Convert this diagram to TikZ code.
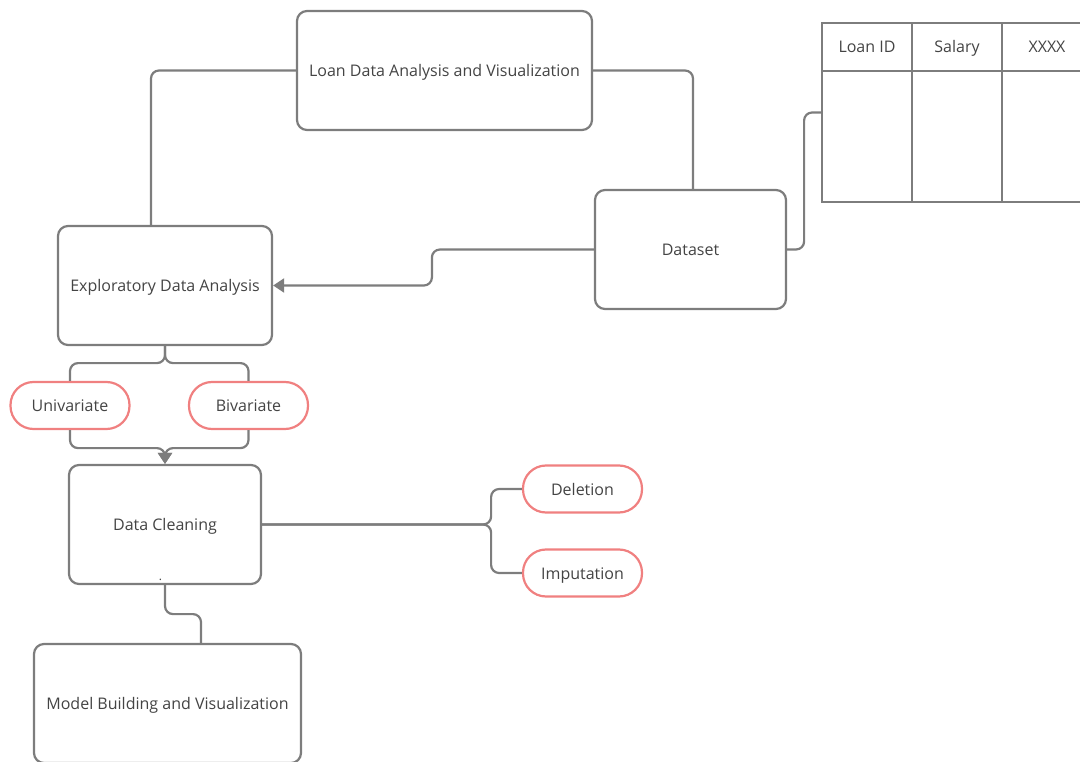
\documentclass[tikz,border=0pt]{standalone}
\usepackage{fontspec}
\setmainfont{Open Sans}
\usetikzlibrary{arrows.meta,positioning,calc}
\definecolor{lineg}{RGB}{125,125,125}
\definecolor{pillred}{RGB}{240,128,128}
\definecolor{txtg}{RGB}{68,68,68}
\tikzset{
  txt/.style={text=txtg,font=\fontsize{16}{19}\selectfont,text height=13.5pt,text depth=1.5pt},
  box/.style={draw=lineg,line width=2.2pt,rounded corners=10pt,fill=white,txt,inner sep=0pt},
  pill/.style={draw=pillred,line width=2.2pt,rounded corners=23pt,fill=white,txt,inner sep=0pt,minimum width=119pt,minimum height=47pt},
  conn/.style={draw=lineg,line width=2.2pt,rounded corners=8pt},
  arr/.style={conn,-{Triangle[width=14pt,length=11pt]}},
  cell/.style={txt,inner sep=0pt},
}
\begin{document}
\begin{tikzpicture}[x=1pt,y=-1pt]
\useasboundingbox (0,0) rectangle (1080,762);
% boxes
\node[box,minimum width=295pt,minimum height=119pt] (title) at (444.5,70.5) {Loan Data Analysis and Visualization};
\node[box,minimum width=191pt,minimum height=119pt] (ds) at (690.5,249.5) {Dataset};
\node[box,minimum width=214pt,minimum height=119pt] (eda) at (165,285.5) {Exploratory Data Analysis};
\node[pill] (uni) at (70,405.5) {Univariate};
\node[pill] (bi) at (248.5,405.5) {Bivariate};
\node[box,minimum width=192pt,minimum height=119pt] (dc) at (165,524.5) {Data Cleaning};
\node[pill] (del) at (582.5,489) {Deletion};
\node[pill] (imp) at (582.5,573) {Imputation};
\node[box,minimum width=267pt,minimum height=119pt] (mb) at (167.5,703.5) {Model Building and Visualization};
\node[text=txtg,font=\fontsize{12}{12}\selectfont,inner sep=0pt] (dot) at (160.5,580) {.};
% table
\node[draw=lineg,line width=2.2pt,inner sep=0pt,minimum width=270pt,minimum height=179pt] (tbl) at (957,112.5) {};
\draw[lineg,line width=2.2pt] (822,71) -- (1092,71);
\draw[lineg,line width=2.2pt] (912,23) -- (912,202);
\draw[lineg,line width=2.2pt] (1002,23) -- (1002,202);
\node[cell] (c1) at (867,47) {Loan ID};
\node[cell] (c2) at (957,47) {Salary};
\node[cell] (c3) at (1047,47) {XXXX};
% coordinates
\coordinate (edain) at (151,226);
\coordinate (dsin) at (693,190);
\coordinate (mbin) at (201,644);
% connectors
\draw[conn] (title.west) -| (edain);
\draw[conn] (title.east) -| (dsin);
\draw[conn] (ds.east) -- ++(17,0) |- (tbl.west);
\draw[arr] (ds.west) -- ++(-162,0) |- (eda.east);
\draw[conn] (eda.south) -- ++(0,17) -| (uni.north);
\draw[conn] (eda.south) -- ++(0,17) -| (bi.north);
\draw[arr] (uni.south) -- ++(0,18) -| (dc.north);
\draw[arr] (bi.south) -- ++(0,18) -| (dc.north);
\draw[conn] (dc.east) -- ++(229,0) |- (del.west);
\draw[conn] (dc.east) -- ++(229,0) |- (imp.west);
\draw[conn] (dc.south) -- ++(0,29) -| (mbin);
\end{tikzpicture}
\end{document}
